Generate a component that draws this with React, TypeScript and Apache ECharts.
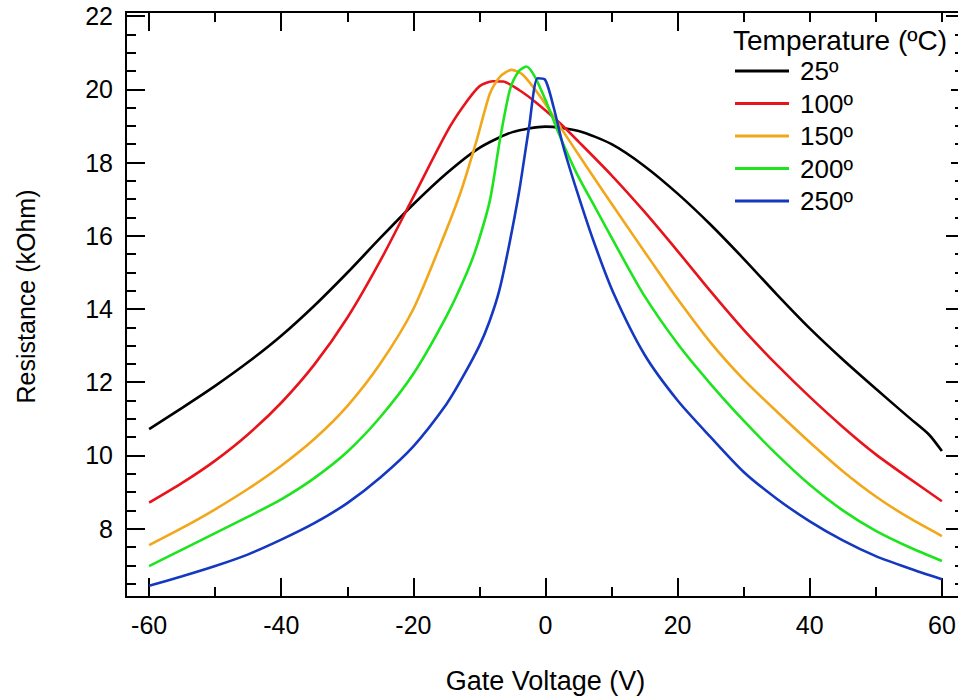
import React, { useEffect, useRef } from "react";
import * as echarts from "echarts";

// Gate voltage (V) vs resistance (kOhm)
const voltageMajor = [-60, -40, -20, 0, 20, 40, 60];
const voltageMinor = [-50, -30, -10, 10, 30, 50];
const resistanceMajor = [8, 10, 12, 14, 16, 18, 20, 22];
const resistanceMinor = [6.5, 7, 7.5, 8.5, 9, 9.5, 10.5, 11, 11.5, 12.5, 13, 13.5, 14.5, 15, 15.5, 16.5, 17, 17.5, 18.5, 19, 19.5, 20.5, 21, 21.5];

const temperatures = ["25º", "100º", "150º", "200º", "250º"];

const r25 = [
  [-60, 10.72], [-55, 11.3], [-50, 11.9], [-45, 12.55], [-40, 13.27], [-35, 14.09],
  [-30, 14.99], [-25, 15.94], [-20, 16.86], [-15, 17.7], [-10, 18.4], [-5, 18.83],
  [0, 18.98], [5, 18.86], [10, 18.5], [15, 17.9], [20, 17.15], [25, 16.3],
  [30, 15.37], [35, 14.4], [40, 13.47], [45, 12.62], [50, 11.82], [55, 11.04],
  [58, 10.58], [60, 10.12],
];
const r100 = [
  [-60, 8.71], [-55, 9.25], [-50, 9.86], [-45, 10.58], [-40, 11.44], [-35, 12.48],
  [-30, 13.76], [-25, 15.32], [-20, 17.06], [-15, 18.81], [-12.5, 19.52], [-10, 20.08],
  [-8, 20.22], [-6.4, 20.21], [-4, 19.98], [-1.3, 19.62], [2.2, 19.07], [5, 18.57],
  [10, 17.65], [15, 16.65], [20, 15.58], [25, 14.48], [30, 13.43], [35, 12.48],
  [40, 11.6], [45, 10.78], [50, 10.03], [55, 9.38], [60, 8.75],
];
const r150 = [
  [-60, 7.55], [-55, 8.02], [-50, 8.53], [-45, 9.09], [-40, 9.72], [-35, 10.45],
  [-30, 11.35], [-25, 12.51], [-20, 14.0], [-16, 15.71], [-12.9, 17.16], [-10.4, 18.62],
  [-8.4, 19.89], [-6.9, 20.34], [-5.1, 20.53], [-3.4, 20.39], [-0.8, 19.8], [2.2, 18.98],
  [6.2, 17.89], [11.3, 16.53], [16, 15.3], [20, 14.27], [25, 13.08], [30, 12.07],
  [35, 11.2], [40, 10.36], [45, 9.57], [50, 8.88], [55, 8.3], [60, 7.8],
];
const r200 = [
  [-60, 6.98], [-55, 7.43], [-50, 7.88], [-45, 8.33], [-40, 8.8], [-35, 9.38],
  [-30, 10.1], [-25, 11.05], [-20, 12.23], [-15, 13.8], [-12, 14.95], [-10.4, 15.71],
  [-8.4, 16.98], [-6.9, 18.62], [-5.4, 19.98], [-4.1, 20.48], [-2.9, 20.62], [-1.6, 20.34],
  [0.2, 19.62], [2.2, 18.71], [4.7, 17.71], [7.7, 16.71], [11, 15.62], [15, 14.35],
  [20, 13.05], [25, 11.95], [30, 10.95], [35, 10.03], [40, 9.2], [45, 8.5],
  [50, 7.94], [55, 7.5], [60, 7.12],
];
const r250 = [
  [-60, 6.44], [-55, 6.7], [-50, 6.98], [-45, 7.3], [-40, 7.7], [-35, 8.15],
  [-30, 8.7], [-25, 9.4], [-20, 10.25], [-15, 11.4], [-12.5, 12.15], [-10, 13.0],
  [-8.5, 13.65], [-7, 14.5], [-5.5, 15.75], [-4, 17.2], [-2.5, 18.95], [-1.2, 20.3],
  [-0.1, 20.27], [1.2, 19.53], [2.7, 18.43], [4.7, 17.25], [7.2, 15.89], [10.3, 14.43],
  [15, 12.75], [20, 11.5], [25, 10.5], [30, 9.55], [35, 8.82], [40, 8.2],
  [45, 7.68], [50, 7.25], [55, 6.92], [60, 6.62],
];

const seriesData = [r25, r100, r150, r200, r250];
const seriesColors = ["#000000", "#e8141c", "#f2a71b", "#1ee41e", "#1438c0"];

const FONT = "'Liberation Sans', Arial, sans-serif";
const X_MIN = -63.5;
const X_MAX = 63.5;
const Y_MIN = 6.135;
const Y_MAX = 22.11;

function xAxis(position: string, ticks: number[], len: number, labels: boolean, name?: string) {
  return {
    type: "value",
    position,
    min: X_MIN,
    max: X_MAX,
    splitLine: { show: false },
    axisLine: { show: true, onZero: false, lineStyle: { color: "#000", width: 2 } },
    axisTick: { show: true, inside: true, length: len, customValues: ticks, lineStyle: { color: "#000", width: 2 } },
    axisLabel: labels
      ? { show: true, customValues: ticks, margin: 15, fontSize: 25, color: "#000", fontFamily: FONT }
      : { show: false },
    name: name || "",
    nameLocation: "middle",
    nameGap: 70,
    nameTextStyle: { fontSize: 27, color: "#000", fontFamily: FONT },
  };
}

function yAxis(position: string, ticks: number[], len: number, labels: boolean, name?: string) {
  return {
    type: "value",
    position,
    min: Y_MIN,
    max: Y_MAX,
    splitLine: { show: false },
    axisLine: { show: true, onZero: false, lineStyle: { color: "#000", width: 2 } },
    axisTick: { show: true, inside: true, length: len, customValues: ticks, lineStyle: { color: "#000", width: 2 } },
    axisLabel: labels
      ? { show: true, customValues: ticks, margin: 13, fontSize: 25, color: "#000", fontFamily: FONT }
      : { show: false },
    name: name || "",
    nameLocation: "middle",
    nameGap: 88,
    nameTextStyle: { fontSize: 25, color: "#000", fontFamily: FONT, padding: [0, 0, 0, 16] },
  };
}

export default function App() {
  const ref = useRef<HTMLDivElement>(null);
  useEffect(() => {
    if (!ref.current) return;
    const chart = echarts.init(ref.current, null, { renderer: "svg" });
    chart.setOption({
      animation: false,
      backgroundColor: "#fff",
      grid: { left: 126, right: 5, top: 12, bottom: 103, containLabel: false },
      xAxis: [
        xAxis("bottom", voltageMajor, 19, true, "Gate Voltage (V)"),
        xAxis("bottom", voltageMinor, 10, false),
        xAxis("top", voltageMajor, 19, false),
        xAxis("top", voltageMinor, 10, false),
      ],
      yAxis: [
        yAxis("left", resistanceMajor, 19, true, "Resistance (kOhm)"),
        yAxis("left", resistanceMinor, 10, false),
        yAxis("right", resistanceMajor, 19, false),
        yAxis("right", resistanceMinor, 10, false),
      ],
      title: {
        text: "Temperature (ºC)",
        left: 733,
        top: 26,
        padding: 0,
        z: 10,
        textStyle: { fontSize: 28, fontWeight: "normal", color: "#000", fontFamily: FONT },
      },
      legend: {
        orient: "vertical",
        left: 735,
        top: 58,
        padding: 0,
        icon: "rect",
        itemWidth: 54,
        itemHeight: 3,
        itemGap: 6.5,
        z: 10,
        data: temperatures,
        textStyle: { fontSize: 26, lineHeight: 26, color: "#000", fontFamily: FONT, padding: [0, 0, 0, 6] },
      },
      graphic: [
        {
          type: "rect",
          z: 5,
          shape: { x: 728, y: 22, width: 223, height: 195 },
          style: { fill: "#fff" },
        },
      ],
      series: seriesData.map((d, i) => ({
        name: temperatures[i],
        type: "line",
        xAxisIndex: 0,
        yAxisIndex: 0,
        data: d,
        symbol: "none",
        showSymbol: false,
        smooth: 0.25,
        lineStyle: { color: seriesColors[i], width: 2.6 },
        itemStyle: { color: seriesColors[i] },
      })),
    });
    return () => chart.dispose();
  }, []);
  return (
    <div style={{ position: "fixed", left: 0, top: 0, width: 958, height: 700, overflow: "hidden", background: "#fff" }}>
      <div ref={ref} style={{ width: 970, height: 700 }} />
    </div>
  );
}
